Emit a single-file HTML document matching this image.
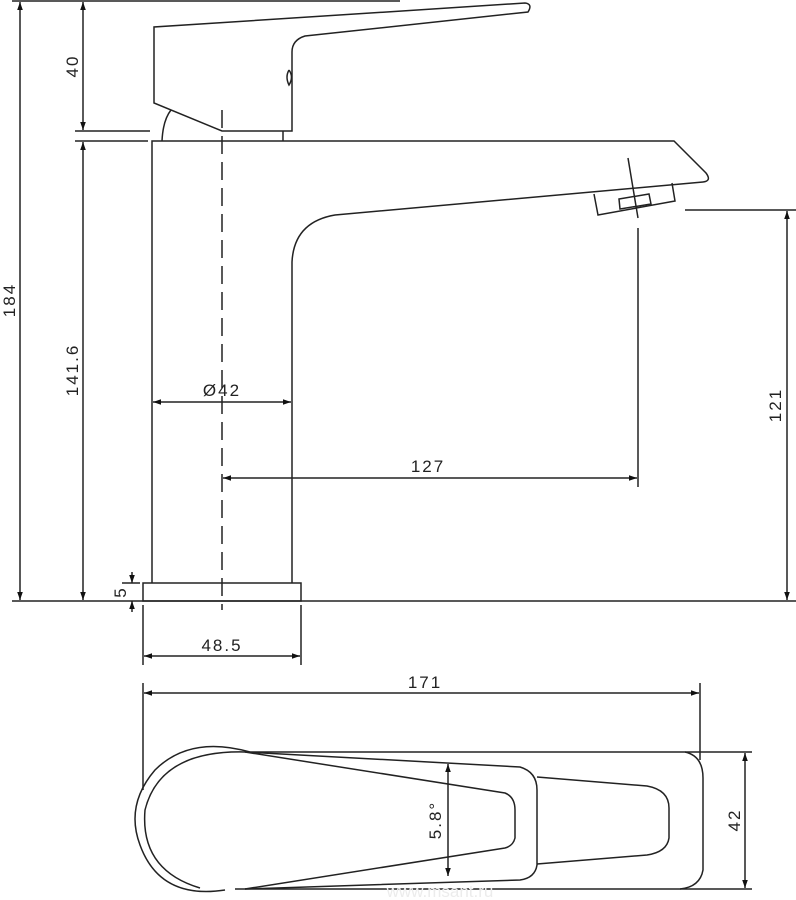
<!DOCTYPE html>
<html><head><meta charset="utf-8"><style>
html,body{margin:0;padding:0;background:#fff;}
svg{display:block;}
text{font-family:"Liberation Sans",sans-serif;font-size:17px;fill:#222;letter-spacing:2px;}
</style></head><body>
<svg width="796" height="900" viewBox="0 0 796 900" xmlns="http://www.w3.org/2000/svg">
<defs>
<marker id="a" viewBox="0 0 10 10" refX="10" refY="5" markerWidth="8" markerHeight="8" orient="auto-start-reverse" markerUnits="userSpaceOnUse"><path d="M0,1.5 L10,5 L0,8.5z" fill="#111"/></marker>
</defs>
<g stroke="#222" stroke-width="1.5" fill="none">
<line x1="12" y1="1" x2="400" y2="1"/>
<path d="M154,103 L154,27 L525,3 Q533,4 528,12 L305,36 Q292,40 292,52 L292,131 L222,131 Z"/>
<path d="M289,70 Q285,77 289,85 Q294,77 289,70"/>
<path d="M162,141 Q163,120 171,110"/>
<line x1="283" y1="131" x2="283" y2="141"/>
<line x1="75" y1="131" x2="150" y2="131"/>
<line x1="75" y1="141" x2="148" y2="141"/>
<path d="M152,583 L152,141 L674,141 L706,173 Q712,181 703,182 L335,215 Q294,222 292,262 L292,583"/>
<path d="M594,194 L598,215 L675,201 L672,183"/>
<path d="M619,199 L620,209 L651,204 L649,194 Z"/>
<rect x="143" y="583" width="158" height="18"/>
<line x1="12" y1="601" x2="796" y2="601"/>
<line x1="222" y1="110" x2="222" y2="610" stroke-dasharray="18,8"/>
<line x1="628" y1="158" x2="638" y2="218"/>
<line x1="638" y1="228" x2="638" y2="487"/>
<line x1="685" y1="210" x2="796" y2="210"/>
<line x1="20" y1="2" x2="20" y2="600" marker-start="url(#a)" marker-end="url(#a)"/>
<line x1="83" y1="2" x2="83" y2="130" marker-start="url(#a)" marker-end="url(#a)"/>
<line x1="83" y1="142" x2="83" y2="600" marker-start="url(#a)" marker-end="url(#a)"/>
<line x1="787" y1="211" x2="787" y2="600" marker-start="url(#a)" marker-end="url(#a)"/>
<line x1="153" y1="402" x2="291" y2="402" marker-start="url(#a)" marker-end="url(#a)"/>
<line x1="223" y1="478" x2="637" y2="478" marker-start="url(#a)" marker-end="url(#a)"/>
<line x1="132" y1="572" x2="132" y2="583" marker-end="url(#a)"/>
<line x1="132" y1="612" x2="132" y2="601" marker-end="url(#a)"/>
<line x1="122" y1="583" x2="140" y2="583"/>
<line x1="143" y1="605" x2="143" y2="665"/>
<line x1="301" y1="605" x2="301" y2="665"/>
<line x1="144" y1="656" x2="300" y2="656" marker-start="url(#a)" marker-end="url(#a)"/>
<line x1="143" y1="683" x2="143" y2="790"/>
<line x1="700" y1="683" x2="700" y2="760"/>
<line x1="144" y1="693" x2="699" y2="693" marker-start="url(#a)" marker-end="url(#a)"/>
<path d="M250,752 Q190,735 155,770 Q125,805 140,845 Q160,900 225,890"/>
<path d="M245,752 Q160,750 145,810 Q140,870 200,888"/>
<path d="M245,752 L520,767 Q537,772 537,790 L537,865 Q535,878 520,880 L245,889"/>
<path d="M245,752 L505,793 Q515,797 515,810 L515,838 Q513,846 505,848 L245,889"/>
<path d="M537,777 L647,786 Q669,790 669,808 L669,838 Q667,852 647,855 L537,864"/>
<path d="M250,752 L685,752 Q703,756 703,778 L703,870 Q700,887 680,889 L235,889"/>
<line x1="685" y1="752" x2="752" y2="752"/>
<line x1="680" y1="889" x2="752" y2="889"/>
<line x1="745" y1="753" x2="745" y2="888" marker-start="url(#a)" marker-end="url(#a)"/>
<line x1="448" y1="764" x2="448" y2="876" marker-start="url(#a)" marker-end="url(#a)"/>
</g>
<text transform="translate(15,300) rotate(-90)" text-anchor="middle">184</text>
<text transform="translate(78,66) rotate(-90)" text-anchor="middle">40</text>
<text transform="translate(78,370) rotate(-90)" text-anchor="middle">141.6</text>
<text transform="translate(781,405) rotate(-90)" text-anchor="middle">121</text>
<text x="222" y="396" text-anchor="middle">Ø42</text>
<text x="428" y="472" text-anchor="middle">127</text>
<text transform="translate(126,592) rotate(-90)" text-anchor="middle" font-size="14">5</text>
<text x="222" y="651" text-anchor="middle">48.5</text>
<text x="425" y="688" text-anchor="middle">171</text>
<text transform="translate(740,820) rotate(-90)" text-anchor="middle">42</text>
<text transform="translate(441,820) rotate(-90)" text-anchor="middle">5.8°</text>
<text x="440" y="897" text-anchor="middle" font-size="44" style="fill:#ececec;letter-spacing:0">www.msant.ru</text>
</svg>
</body></html>
